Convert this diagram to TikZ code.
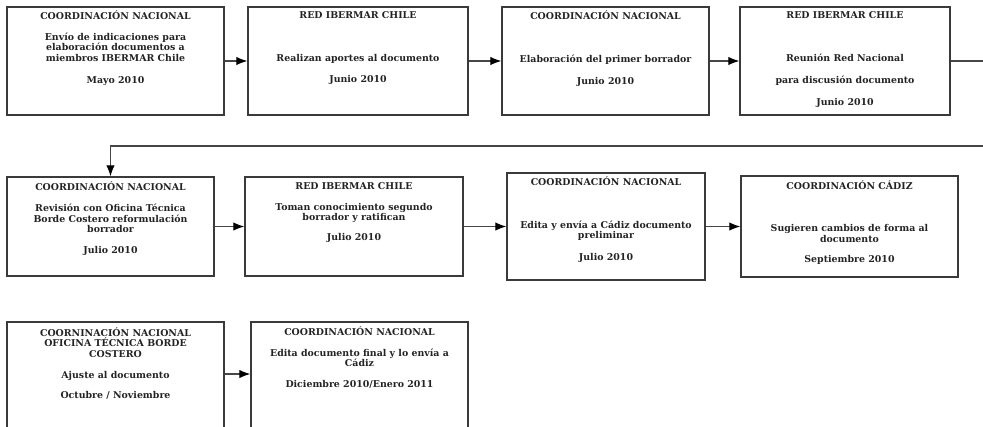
\documentclass[tikz,border=0pt]{standalone}
\usepackage{fontspec}
\setmainfont{DejaVu Serif}
\usepackage{tikz}
\usetikzlibrary{arrows,arrows.meta,positioning}
\definecolor{borde}{RGB}{58,58,58}
\definecolor{linea}{RGB}{70,70,70}
\definecolor{letra}{RGB}{35,35,35}
\tikzstyle{caja}=[draw=borde, line width=1.4pt, inner sep=0pt]
\tikzstyle{texto}=[align=center, inner sep=0pt, anchor=north, text=letra, font=\bfseries\fontsize{9.4}{10.5}\selectfont, execute at begin node=\vphantom{Ó}]
\tikzstyle{flecha}=[->, draw=linea, line width=1.1pt]

\begin{document}
\begin{tikzpicture}[x=1pt,y=-1pt,>={Latex[length=11pt,width=8.5pt,color=black]}]
		    \useasboundingbox (0,0) rectangle (983,426);
		    \clip (0,0) rectangle (983,426);
		    % fila 1
		    \node [caja, minimum width=217pt, minimum height=108pt] (b1) at (115.5,61) {};
		    \node [caja, minimum width=220pt, minimum height=108pt] (b2) at (358,61) {};
		    \node [caja, minimum width=207pt, minimum height=108pt] (b3) at (605.5,61) {};
		    \node [caja, minimum width=210pt, minimum height=108pt] (b4) at (845,61) {};
		    % fila 2
		    \node [caja, minimum width=207pt, minimum height=99pt] (b5) at (110.5,226.5) {};
		    \node [caja, minimum width=218pt, minimum height=99pt] (b6) at (354,226.5) {};
		    \node [caja, minimum width=198pt, minimum height=107pt] (b7) at (606,226.5) {};
		    \node [caja, minimum width=217pt, minimum height=101pt] (b8) at (849.5,226.5) {};
		    % fila 3
		    \node [caja, minimum width=217pt, minimum height=118pt] (b9) at (115.5,381) {};
		    \node [caja, minimum width=217pt, minimum height=118pt] (b10) at (359.5,381) {};
		    % textos
		    \node [texto] (t1) at (115.5,11) {COORDINACIÓN NACIONAL\\[10pt]Envío de indicaciones para\\elaboración documentos a\\miembros IBERMAR Chile\\[12pt]Mayo 2010};
		    \node [texto] (t2) at (358,11) {RED IBERMAR CHILE\\[32.5pt]Realizan aportes al documento\\[11pt]Junio 2010};
		    \node [texto] (t3) at (605.5,11) {COORDINACIÓN NACIONAL\\[32.5pt]Elaboración del primer borrador\\[11pt]Junio 2010};
		    \node [texto] (t4) at (845,11) {RED IBERMAR CHILE\\[32.5pt]Reunión Red Nacional\\[11.5pt]para discusión documento\\[11.5pt]Junio 2010};
		    \node [texto] (t5) at (110.5,182) {COORDINACIÓN NACIONAL\\[10.5pt]Revisión con Oficina Técnica\\Borde Costero reformulación\\borrador\\[10pt]Julio 2010};
		    \node [texto] (t6) at (354,182) {RED IBERMAR CHILE\\[10.5pt]Toman conocimiento segundo\\borrador y ratifican\\[9pt]Julio 2010};
		    \node [texto] (t7) at (606,177) {COORDINACIÓN NACIONAL\\[32pt]Edita y envía a Cádiz documento\\preliminar\\[11pt]Julio 2010};
		    \node [texto] (t8) at (849.5,180.5) {COORDINACIÓN CÁDIZ\\[32pt]Sugieren cambios de forma al\\documento\\[10pt]Septiembre 2010};
		    \node [texto] (t9) at (115.5,327.5) {COORNINACIÓN NACIONAL\\OFICINA TÉCNICA BORDE\\COSTERO\\[10.5pt]Ajuste al documento\\[9.5pt]Octubre / Noviembre};
		    \node [texto] (t10) at (359.5,327) {COORDINACIÓN NACIONAL\\[10pt]Edita documento final y lo envía a\\Cádiz\\[10.5pt]Diciembre 2010/Enero 2011};
		    % flechas
		    \coordinate (vuelta) at (995,146);
		    \path
		    (b1) edge[flecha] (b2)
		    (b2) edge[flecha] (b3)
		    (b3) edge[flecha] (b4)
		    (b5) edge[flecha] (b6)
		    (b6) edge[flecha] (b7)
		    (b7) edge[flecha] (b8)
		    ([yshift=7pt]b9.east) edge[flecha] ([yshift=7pt]b10.west);
		    \draw[flecha] (b4.east) -| (vuelta) -| (b5.north);
		\end{tikzpicture}
\end{document}
